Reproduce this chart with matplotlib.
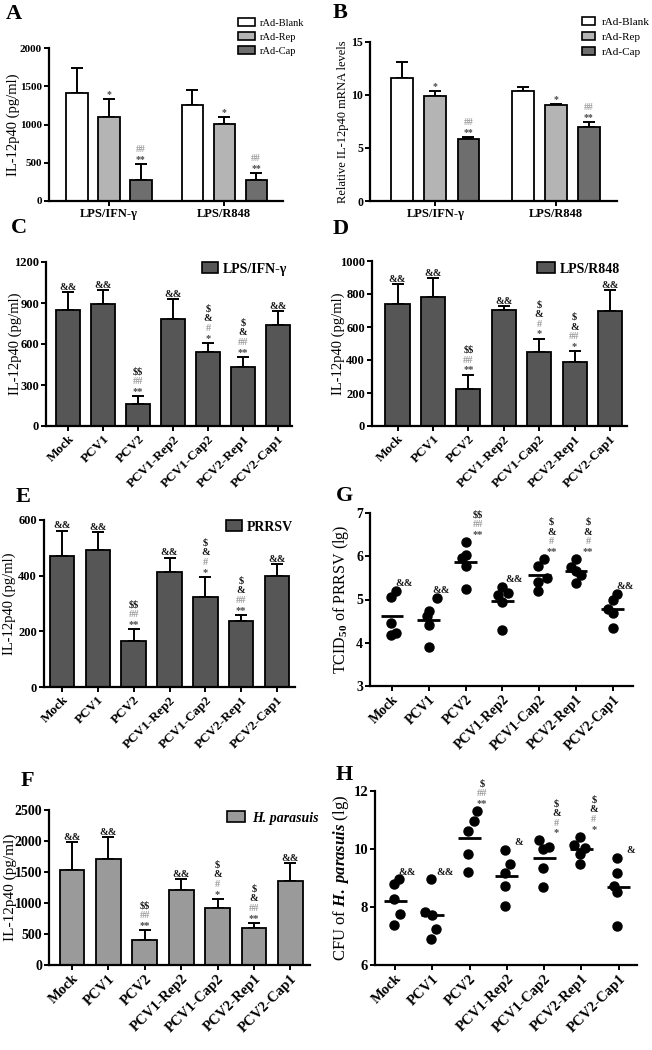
import numpy as np
import matplotlib
matplotlib.use("Agg")
import matplotlib.pyplot as plt
from matplotlib.patches import Patch

plt.rcParams["font.family"] = ["Liberation Serif", "DejaVu Serif"]
plt.rcParams["font.weight"] = "bold"
plt.rcParams["mathtext.fontset"] = "custom"
plt.rcParams["mathtext.rm"] = "Liberation Serif:bold"
plt.rcParams["mathtext.it"] = "Liberation Serif:italic:bold"
plt.rcParams["mathtext.bf"] = "Liberation Serif:bold"
plt.rcParams["mathtext.default"] = "rm"

W, H = 652, 1050

# ---------------- data ----------------
stimuli = ["LPS/IFN-γ", "LPS/R848"]
vectors = ["rAd-Blank", "rAd-Rep", "rAd-Cap"]
groups = ["Mock", "PCV1", "PCV2", "PCV1-Rep2", "PCV1-Cap2", "PCV2-Rep1", "PCV2-Cap1"]

# A: IL-12p40 protein (pg/ml), rows = vectors, cols = stimuli
a_mean = [[1415, 1255], [1100, 1005], [275, 275]]
a_err = [[325, 195], [235, 95], [205, 90]]
a_marks = [[[], []], [["*"], ["*"]], [["**", "##"], ["**", "##"]]]

# B: relative IL-12p40 mRNA
b_mean = [[11.6, 10.4], [9.9, 9.05], [5.85, 7.0]]
b_err = [[1.5, 0.35], [0.45, 0.1], [0.2, 0.45]]
b_marks = a_marks

# C-F: IL-12p40 (pg/ml) after stimulation
c_mean = [852, 893, 161, 783, 540, 431, 742]
c_err = [129, 100, 58, 144, 68, 75, 100]
c_marks = [["&&"], ["&&"], ["**", "##", "$$"], ["&&"],
           ["*", "#", "&", "$"], ["**", "##", "&", "$"], ["&&"]]

d_mean = [742, 782, 224, 706, 450, 389, 696]
d_err = [119, 117, 88, 20, 80, 65, 127]
d_marks = [["&&"], ["&&"], ["**", "##", "$$"], ["&&"],
           ["*", "#", "&", "$"], ["*", "##", "&", "$"], ["&&"]]

e_mean = [471, 492, 166, 414, 323, 237, 399]
e_err = [91, 66, 42, 51, 73, 22, 43]
e_marks = [["&&"], ["&&"], ["**", "##", "$$"], ["&&"],
           ["*", "#", "&", "$"], ["**", "##", "&", "$"], ["&&"]]

f_mean = [1532, 1704, 403, 1204, 925, 597, 1360]
f_err = [446, 366, 162, 183, 145, 86, 280]
f_marks = e_marks

# G: TCID50 of PRRSV (lg), five pigs per group
g_vals = [[5.20, 5.06, 4.46, 4.23, 4.17],
          [5.04, 4.73, 4.61, 4.40, 3.90],
          [6.34, 6.04, 5.97, 5.77, 5.24],
          [5.30, 5.16, 5.10, 4.94, 4.29],
          [5.94, 5.77, 5.50, 5.40, 5.20],
          [5.94, 5.74, 5.67, 5.56, 5.37],
          [5.12, 4.98, 4.79, 4.69, 4.34]]
g_dx = [[0.10, -0.04, -0.04, 0.10, -0.04],
        [0.22, 0.00, -0.06, 0.00, 0.00],
        [0.02, 0.02, -0.10, 0.02, 0.02],
        [0.00, 0.14, -0.12, 0.00, 0.00],
        [0.12, -0.02, 0.22, -0.02, -0.02],
        [0.00, -0.14, 0.00, 0.14, 0.00],
        [0.11, 0.00, -0.14, 0.00, 0.00]]
g_marks = [["&&"], ["&&"], ["**", "##", "$$"], ["&&"],
           ["**", "#", "&", "$"], ["**", "#", "&", "$"], ["&&"]]

# H: CFU of H. parasuis (lg)
h_vals = [[8.95, 8.78, 8.26, 7.75, 7.38],
          [8.95, 7.82, 7.72, 7.23, 6.89],
          [11.31, 10.97, 10.62, 9.83, 9.22],
          [9.97, 9.48, 9.16, 8.72, 8.03],
          [10.30, 10.06, 10.00, 9.33, 8.70],
          [10.43, 10.14, 10.05, 9.82, 9.48],
          [9.68, 9.16, 8.72, 8.53, 7.34]]
h_dx = [[0.10, -0.04, -0.04, 0.12, -0.04],
        [-0.04, -0.19, 0.00, 0.11, -0.04],
        [0.20, 0.11, -0.05, -0.05, -0.05],
        [-0.04, 0.09, -0.04, -0.04, -0.04],
        [-0.15, 0.12, -0.02, -0.04, -0.04],
        [-0.05, -0.20, 0.10, -0.04, -0.05],
        [-0.05, -0.05, -0.14, -0.04, -0.05]]
h_marks = [["&&"], ["&&"], ["**", "##", "$"], ["&"],
           ["*", "#", "&", "$"], ["*", "#", "&", "$"], ["&"]]

vec_colors = ["#ffffff", "#b4b4b4", "#6e6e6e"]
sym_colors = {"*": "#4a4a4a", "#": "#9c9c9c", "&": "#1a1a1a", "$": "#1a1a1a"}

fig = plt.figure(figsize=(W / 100, H / 100), dpi=100)


def px_axes(left, top, right, bottom):
    return fig.add_axes([left / W, 1 - bottom / H, (right - left) / W, (bottom - top) / H])


def style(ax, tick_size):
    for s in ["top", "right"]:
        ax.spines[s].set_visible(False)
    for s in ["left", "bottom"]:
        ax.spines[s].set_linewidth(1.6)
    ax.tick_params(width=1.4, length=3.5, labelsize=tick_size, pad=1.5)


def ylabel(ax, text, size, right_px):
    pos = ax.get_position()
    ax.set_ylabel(text, fontsize=size)
    ax.yaxis.set_label_coords((right_px - pos.x0 * W) / (pos.width * W), 0.5)


def stack(ax, x, y, marks, size, dy0=1.5, step=7.0):
    for k, m in enumerate(marks):
        ax.annotate(m, (x, y), xytext=(0, dy0 + k * step), textcoords="offset points",
                    ha="center", va="baseline", fontsize=size, color=sym_colors[m[0]],
                    parse_math=False)


def letter(x, y, s):
    fig.text(x / W, 1 - y / H, s, fontsize=16, weight="bold", va="top", ha="left")


def legend_at(ax, handles, x, y, size, hl, tp, hh=0.8, style_="normal", weight="normal"):
    ax.legend(handles=handles, loc="center left", bbox_to_anchor=(x / W, 1 - y / H),
              bbox_transform=fig.transFigure, frameon=False, borderpad=0, borderaxespad=0,
              handlelength=hl, handleheight=hh, handletextpad=tp, labelspacing=0.45,
              prop={"size": size, "style": style_, "weight": weight})


# ---------------- A and B ----------------
def grouped(ax, mean, err, marks, gap, sym_size):
    base = np.array([0.0, gap])
    for i in range(3):
        xs = base + (i - 1)
        ax.bar(xs, mean[i], width=0.66, color=vec_colors[i], edgecolor="black", linewidth=1.3, zorder=2)
        ax.errorbar(xs, mean[i], yerr=[np.zeros(2), err[i]], fmt="none", ecolor="black",
                    elinewidth=1.4, capsize=4.5, capthick=1.4, zorder=1)
        for j in range(2):
            stack(ax, xs[j], mean[i][j] + err[i][j], marks[i][j], sym_size)
    ax.set_xticks(base)
    ax.set_xticklabels(stimuli, fontsize=9)


axA = px_axes(49, 48, 283, 201)
style(axA, 8)
grouped(axA, a_mean, a_err, a_marks, 3.6, 7)
axA.set_xlim(-1.875, 5.44)
axA.set_ylim(0, 2000)
axA.set_yticks([0, 500, 1000, 1500, 2000])
ylabel(axA, "IL-12p40 (pg/ml)", 10.5, 20)
legend_at(axA, [Patch(facecolor=c, edgecolor="black", linewidth=1.2, label=v)
                for c, v in zip(vec_colors, vectors)], 238, 37, 7.5, 1.6, 0.5, 0.75)

axB = px_axes(370, 42, 617, 201)
style(axB, 8.5)
grouped(axB, b_mean, b_err, b_marks, 3.65, 7)
axB.set_xlim(-1.98, 5.5)
axB.set_ylim(0, 15)
axB.set_yticks([0, 5, 10, 15])
ylabel(axB, "Relative IL-12p40 mRNA levels", 9, 349)
legend_at(axB, [Patch(facecolor=c, edgecolor="black", linewidth=1.2, label=v)
                for c, v in zip(vec_colors, vectors)], 582, 37, 8, 1.2, 0.55, 0.75)


# ---------------- C, D, E, F ----------------
def bars(ax, mean, err, marks, color, sym_size, cat_size):
    xs = np.arange(len(groups))
    ax.bar(xs, mean, width=0.68, color=color, edgecolor="black", linewidth=1.3, zorder=2)
    ax.errorbar(xs, mean, yerr=[np.zeros(len(xs)), err], fmt="none", ecolor="black",
                elinewidth=1.4, capsize=4.5, capthick=1.4, zorder=1)
    for x, m, e, mk in zip(xs, mean, err, marks):
        stack(ax, x, m + e, mk, sym_size)
    ax.set_xticks(xs)
    ax.set_xticklabels(groups, rotation=45, ha="right", rotation_mode="anchor", fontsize=cat_size)


dark = "#565656"
axC = px_axes(46, 262, 292, 426)
style(axC, 9)
bars(axC, c_mean, c_err, c_marks, dark, 7.5, 9.5)
axC.set_xlim(-0.63, 6.4)
axC.set_ylim(0, 1200)
axC.set_yticks([0, 300, 600, 900, 1200])
ylabel(axC, "IL-12p40 (pg/ml)", 10.5, 22)
legend_at(axC, [Patch(facecolor=dark, edgecolor="black", linewidth=1.2, label="LPS/IFN-γ")],
          202, 269, 10, 1.15, 0.35, weight="bold")

axD = px_axes(372, 261, 627, 426)
style(axD, 9)
bars(axD, d_mean, d_err, d_marks, dark, 7.5, 9.5)
axD.set_xlim(-0.72, 6.48)
axD.set_ylim(0, 1000)
axD.set_yticks([0, 200, 400, 600, 800, 1000])
ylabel(axD, "IL-12p40 (pg/ml)", 10.5, 345)
legend_at(axD, [Patch(facecolor=dark, edgecolor="black", linewidth=1.2, label="LPS/R848")],
          537, 269, 10, 1.3, 0.35, weight="bold")

axE = px_axes(44, 520, 295, 687)
style(axE, 9)
bars(axE, e_mean, e_err, e_marks, dark, 7.5, 9.5)
axE.set_xlim(-0.5, 6.5)
axE.set_ylim(0, 600)
axE.set_yticks([0, 200, 400, 600])
ylabel(axE, "IL-12p40 (pg/ml)", 10.5, 16)
legend_at(axE, [Patch(facecolor=dark, edgecolor="black", linewidth=1.2, label="PRRSV")],
          226, 527, 10, 1.15, 0.35, weight="bold")

light = "#9a9a9a"
axF = px_axes(49, 810, 310, 965)
style(axF, 10)
bars(axF, f_mean, f_err, f_marks, light, 7.5, 10.5)
axF.set_xlim(-0.63, 6.54)
axF.set_ylim(0, 2500)
axF.set_yticks([0, 500, 1000, 1500, 2000, 2500])
ylabel(axF, "IL-12p40 (pg/ml)", 11, 17)
legend_at(axF, [Patch(facecolor=light, edgecolor="black", linewidth=1.2, label="H. parasuis")],
          227, 818, 10, 1.3, 0.5, style_="italic", weight="bold")


# ---------------- G and H ----------------
def dots(ax, vals, dx, marks, sym_size, cat_size):
    for i, (v, d, mk) in enumerate(zip(vals, dx, marks)):
        ax.plot(i + np.array(d), v, "o", color="black", markersize=6.5, zorder=3, clip_on=False)
        ax.hlines(np.mean(v), i - 0.31, i + 0.31, color="black", linewidth=2, zorder=2)
        stack(ax, i + 0.33, max(v), mk, sym_size, dy0=3.5)
    ax.set_xticks(range(len(groups)))
    ax.set_xticklabels(groups, rotation=45, ha="right", rotation_mode="anchor", fontsize=cat_size)


axG = px_axes(370, 513, 633, 686)
style(axG, 10)
dots(axG, g_vals, g_dx, g_marks, 7.5, 10)
axG.set_xlim(-0.6, 6.55)
axG.set_ylim(3, 7)
axG.set_yticks([3, 4, 5, 6, 7])
ylabel(axG, "TCID$_{50}$ of PRRSV (lg)", 11.5, 351)

axH = px_axes(375, 791, 637, 965)
style(axH, 10.5)
dots(axH, h_vals, h_dx, h_marks, 7.5, 10.5)
axH.set_xlim(-0.54, 6.49)
axH.set_ylim(6, 12)
axH.set_yticks([6, 8, 10, 12])
ylabel(axH, r"CFU of $\mathit{H.\ parasuis}$ (lg)", 12, 351)

letter(6, 4, "A")
letter(333, 3, "B")
letter(11, 218, "C")
letter(333, 219, "D")
letter(16, 487, "E")
letter(336, 486, "G")
letter(21, 771, "F")
letter(336, 765, "H")

fig.savefig("out.png", dpi=100)
